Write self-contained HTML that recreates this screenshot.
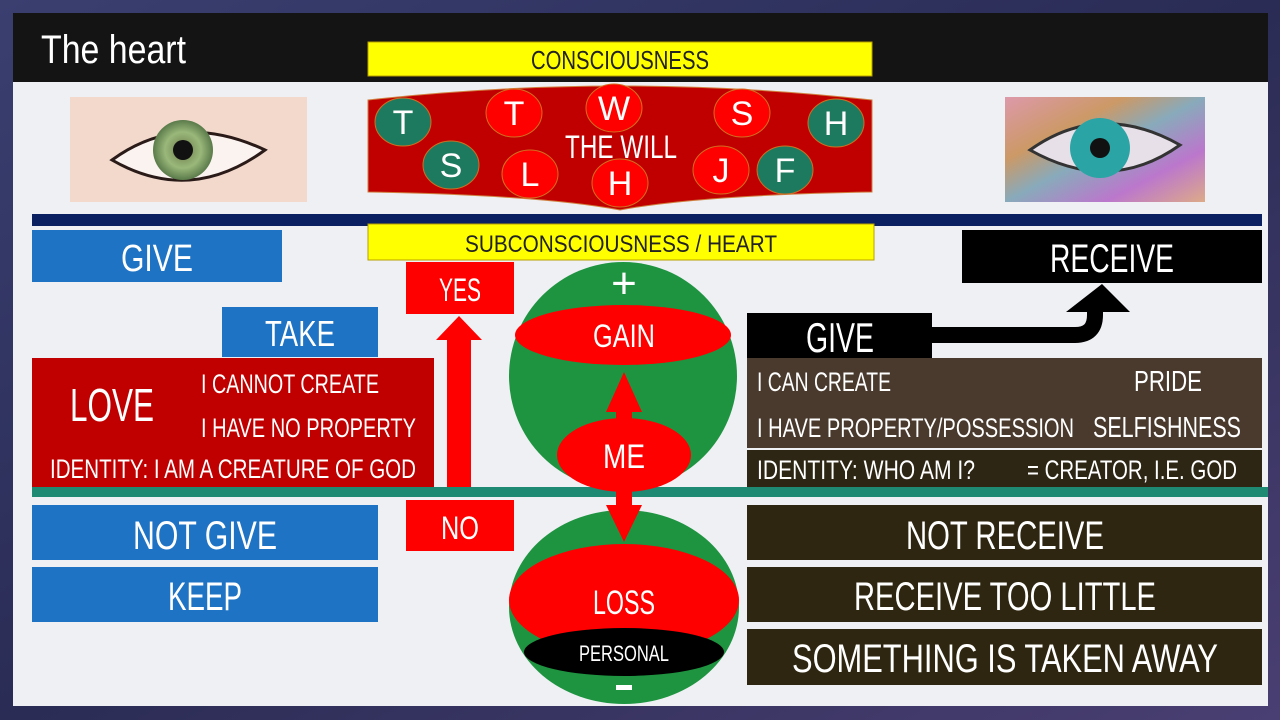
<!DOCTYPE html>
<html><head><meta charset="utf-8"><style>
html,body{margin:0;padding:0;width:1280px;height:720px;overflow:hidden;background:#2a2f5a}
svg{display:block}
text{font-family:"Liberation Sans",sans-serif;fill:#fff}
</style></head><body>
<svg width="1280" height="720" viewBox="0 0 1280 720" xmlns="http://www.w3.org/2000/svg">
<defs>
<linearGradient id="bg" x1="0" y1="0" x2="1" y2="1"><stop offset="0" stop-color="#3a3f70"/><stop offset="0.5" stop-color="#2a2c55"/><stop offset="1" stop-color="#4a3f72"/></linearGradient>
<radialGradient id="iris1"><stop offset="0" stop-color="#6a7a4a"/><stop offset="0.6" stop-color="#9ab87a"/><stop offset="1" stop-color="#5a7a4a"/></radialGradient>
<linearGradient id="rainbow" x1="0" y1="0" x2="1" y2="1"><stop offset="0" stop-color="#d9a"/><stop offset="0.3" stop-color="#c96"/><stop offset="0.5" stop-color="#8ab"/><stop offset="0.75" stop-color="#b7c"/><stop offset="1" stop-color="#da8"/></linearGradient>
</defs>
<rect width="1280" height="720" fill="url(#bg)"/>
<rect x="13" y="82" width="1255" height="624" fill="#eef0f4"/>
<rect x="13" y="13" width="1255" height="69" fill="#141414"/>
<text x="41" y="63" font-size="40" textLength="145" lengthAdjust="spacingAndGlyphs">The heart</text>

<rect x="70" y="97" width="237" height="105" fill="#f2d9cc"/>
<path d="M112 160 Q180 110 265 150 Q190 205 112 160Z" fill="#fbf3f0" stroke="#2a1a18" stroke-width="3"/>
<circle cx="183" cy="150" r="30" fill="url(#iris1)"/>
<circle cx="183" cy="150" r="10" fill="#111"/>
<rect x="1005" y="97" width="200" height="105" fill="url(#rainbow)"/>
<path d="M1030 150 Q1100 100 1180 145 Q1110 195 1030 150Z" fill="#e8e0e8" stroke="#333" stroke-width="3"/>
<circle cx="1100" cy="148" r="30" fill="#2aa4a4"/>
<circle cx="1100" cy="148" r="10" fill="#111"/>

<rect x="368" y="42" width="504" height="34" fill="#ffff00" stroke="#b8a000"/>
<text x="620" y="69" font-size="26" text-anchor="middle" style="fill:#222" textLength="178" lengthAdjust="spacingAndGlyphs">CONSCIOUSNESS</text>

<path d="M368 100 Q620 72 872 100 L872 192 Q700 195 620 210 Q540 195 368 192 Z" fill="#c00000" stroke="#d08040" stroke-width="1"/>
<g stroke="#d07020" stroke-width="1">
<ellipse cx="403" cy="122" rx="28" ry="24" fill="#1e7a5e"/>
<ellipse cx="451" cy="165" rx="28" ry="24" fill="#1e7a5e"/>
<ellipse cx="836" cy="123" rx="28" ry="24" fill="#1e7a5e"/>
<ellipse cx="785" cy="170" rx="28" ry="24" fill="#1e7a5e"/>
<ellipse cx="514" cy="113" rx="28" ry="24" fill="#ff0000"/>
<ellipse cx="614" cy="108" rx="28" ry="24" fill="#ff0000"/>
<ellipse cx="742" cy="113" rx="28" ry="24" fill="#ff0000"/>
<ellipse cx="530" cy="174" rx="28" ry="24" fill="#ff0000"/>
<ellipse cx="620" cy="183" rx="28" ry="24" fill="#ff0000"/>
<ellipse cx="721" cy="170" rx="28" ry="24" fill="#ff0000"/>
</g>
<g font-size="34" text-anchor="middle">
<text x="403" y="134">T</text><text x="451" y="177">S</text><text x="836" y="135">H</text><text x="785" y="182">F</text>
<text x="514" y="125">T</text><text x="614" y="120">W</text><text x="742" y="125">S</text><text x="530" y="186">L</text><text x="620" y="195">H</text><text x="721" y="182">J</text>
</g>
<text x="621" y="158" font-size="32" text-anchor="middle" textLength="112" lengthAdjust="spacingAndGlyphs">THE WILL</text>

<rect x="32" y="214" width="1230" height="12" fill="#0a2060"/>
<rect x="368" y="224" width="506" height="36" fill="#ffff00" stroke="#b8a000"/>
<text x="621" y="252" font-size="24" text-anchor="middle" style="fill:#222" textLength="312" lengthAdjust="spacingAndGlyphs">SUBCONSCIOUSNESS / HEART</text>

<rect x="32" y="230" width="250" height="52" fill="#1f73c4"/>
<text x="157" y="271" font-size="38" text-anchor="middle" textLength="72" lengthAdjust="spacingAndGlyphs">GIVE</text>
<rect x="962" y="230" width="300" height="53" fill="#000"/>
<text x="1112" y="272" font-size="40" text-anchor="middle" textLength="124" lengthAdjust="spacingAndGlyphs">RECEIVE</text>

<rect x="406" y="262" width="108" height="52" fill="#ff0000"/>
<text x="460" y="301" font-size="32" text-anchor="middle" textLength="42" lengthAdjust="spacingAndGlyphs">YES</text>
<rect x="222" y="307" width="156" height="50" fill="#1f73c4"/>
<text x="300" y="346" font-size="36" text-anchor="middle" textLength="70" lengthAdjust="spacingAndGlyphs">TAKE</text>

<rect x="32" y="358" width="402" height="129" fill="#c00000"/>
<text x="112" y="421" font-size="46" text-anchor="middle" textLength="84" lengthAdjust="spacingAndGlyphs">LOVE</text>
<text x="201" y="393" font-size="27" textLength="178" lengthAdjust="spacingAndGlyphs">I CANNOT CREATE</text>
<text x="201" y="437" font-size="27" textLength="215" lengthAdjust="spacingAndGlyphs">I HAVE NO PROPERTY</text>
<text x="50" y="478" font-size="27" textLength="366" lengthAdjust="spacingAndGlyphs">IDENTITY: I AM A CREATURE OF GOD</text>

<path d="M447 487 L447 340 L436 340 L459 316 L482 340 L471 340 L471 487Z" fill="#ff0000"/>

<circle cx="623" cy="376" r="114" fill="#1e9440"/>
<ellipse cx="623" cy="335" rx="108" ry="30" fill="#ff0000"/>
<text x="624" y="347" font-size="32" text-anchor="middle" textLength="62" lengthAdjust="spacingAndGlyphs">GAIN</text>
<text x="624" y="298" font-size="44" text-anchor="middle">+</text>
<path d="M616 430 L616 412 L606 412 L624 372 L642 412 L632 412 L632 430Z" fill="#ff0000"/>

<rect x="32" y="487" width="1236" height="10" fill="#1e8a74"/>

<ellipse cx="624" cy="607" rx="115" ry="97" fill="#1e9440"/>
<ellipse cx="624" cy="600" rx="115" ry="56" fill="#ff0000"/>
<ellipse cx="624" cy="652" rx="100" ry="24" fill="#000"/>
<text x="624" y="614" font-size="34" text-anchor="middle" textLength="62" lengthAdjust="spacingAndGlyphs">LOSS</text>
<text x="624" y="661" font-size="22" text-anchor="middle" textLength="90" lengthAdjust="spacingAndGlyphs">PERSONAL</text>
<rect x="616" y="685" width="16" height="5" fill="#fff"/>

<path d="M616 480 L616 505 L606 505 L624 542 L642 505 L632 505 L632 480Z" fill="#ff0000"/>
<ellipse cx="624" cy="455" rx="67" ry="37" fill="#ff0000"/>
<text x="624" y="468" font-size="34" text-anchor="middle" textLength="42" lengthAdjust="spacingAndGlyphs">ME</text>

<rect x="406" y="500" width="108" height="51" fill="#ff0000"/>
<text x="460" y="539" font-size="32" text-anchor="middle" textLength="38" lengthAdjust="spacingAndGlyphs">NO</text>

<rect x="32" y="505" width="346" height="55" fill="#1f73c4"/>
<text x="205" y="549" font-size="40" text-anchor="middle" textLength="144" lengthAdjust="spacingAndGlyphs">NOT GIVE</text>
<rect x="32" y="567" width="346" height="55" fill="#1f73c4"/>
<text x="205" y="610" font-size="40" text-anchor="middle" textLength="74" lengthAdjust="spacingAndGlyphs">KEEP</text>

<path d="M930 335 L1075 335 Q1095 335 1095 315 L1095 310" fill="none" stroke="#000" stroke-width="16"/>
<path d="M1066 312 L1102 284 L1130 312Z" fill="#000"/>
<rect x="747" y="313" width="185" height="45" fill="#000"/>
<text x="840" y="352" font-size="42" text-anchor="middle" textLength="68" lengthAdjust="spacingAndGlyphs">GIVE</text>
<rect x="747" y="358" width="515" height="90" fill="#4a3a2e"/>
<text x="757" y="391" font-size="27" textLength="134" lengthAdjust="spacingAndGlyphs">I CAN CREATE</text>
<text x="1134" y="391" font-size="29" textLength="68" lengthAdjust="spacingAndGlyphs">PRIDE</text>
<text x="757" y="437" font-size="27" textLength="317" lengthAdjust="spacingAndGlyphs">I HAVE PROPERTY/POSSESSION</text>
<text x="1093" y="437" font-size="29" textLength="148" lengthAdjust="spacingAndGlyphs">SELFISHNESS</text>
<rect x="747" y="450" width="515" height="37" fill="#2e2614"/>
<text x="757" y="479" font-size="27" textLength="218" lengthAdjust="spacingAndGlyphs">IDENTITY: WHO AM I?</text>
<text x="1027" y="479" font-size="27" textLength="210" lengthAdjust="spacingAndGlyphs">= CREATOR, I.E. GOD</text>

<rect x="747" y="505" width="515" height="55" fill="#2e2610"/>
<text x="1005" y="549" font-size="40" text-anchor="middle" textLength="198" lengthAdjust="spacingAndGlyphs">NOT RECEIVE</text>
<rect x="747" y="567" width="515" height="55" fill="#2e2610"/>
<text x="1005" y="610" font-size="40" text-anchor="middle" textLength="302" lengthAdjust="spacingAndGlyphs">RECEIVE TOO LITTLE</text>
<rect x="747" y="629" width="515" height="56" fill="#2e2610"/>
<text x="1005" y="672" font-size="40" text-anchor="middle" textLength="426" lengthAdjust="spacingAndGlyphs">SOMETHING IS TAKEN AWAY</text>
</svg>
</body></html>
